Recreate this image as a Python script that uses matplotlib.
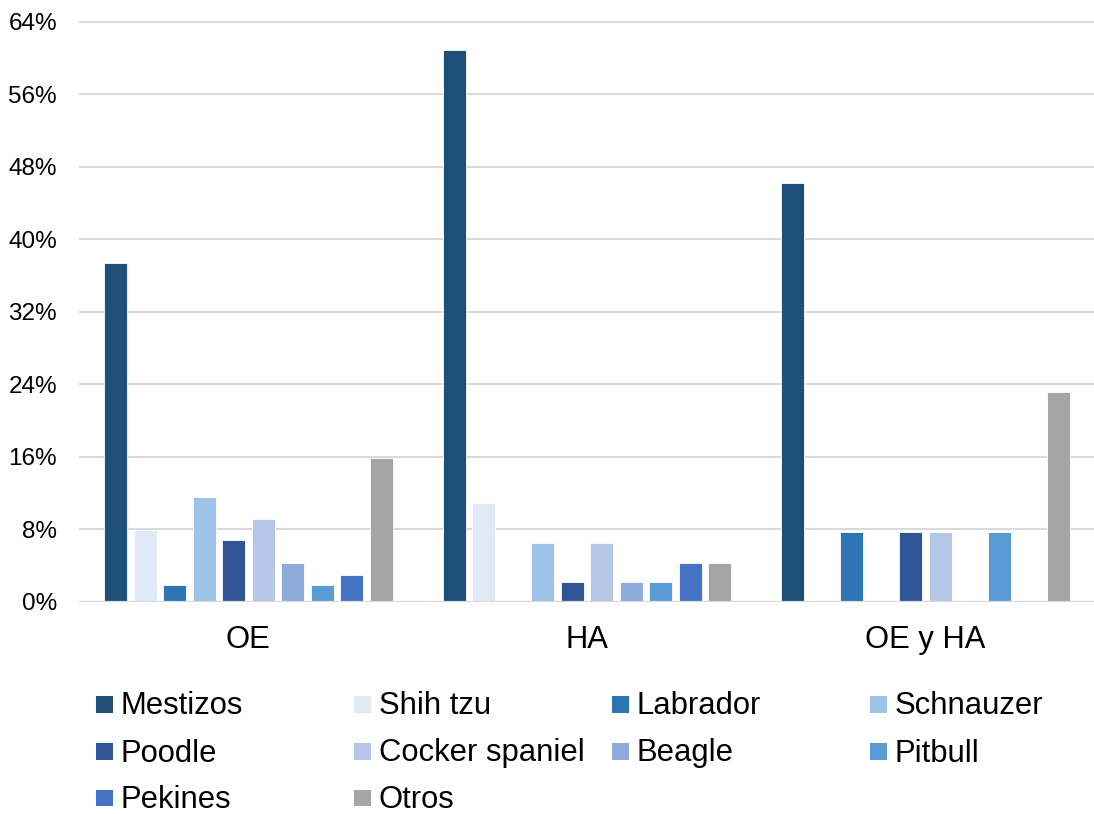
import matplotlib
matplotlib.use("Agg")
import matplotlib.pyplot as plt
from matplotlib.patches import Rectangle
from matplotlib.ticker import PercentFormatter, MultipleLocator
import numpy as np

plt.rcParams['font.family'] = ['Liberation Sans', 'DejaVu Sans']

# Groups and breed shares (fraction of dogs in each group)
groups = ["OE", "HA", "OE y HA"]
breeds = ["Mestizos", "Shih tzu", "Labrador", "Schnauzer", "Poodle",
          "Cocker spaniel", "Beagle", "Pitbull", "Pekines", "Otros"]
oe = [0.374, 0.079, 0.018, 0.116, 0.068, 0.091, 0.043, 0.018, 0.030, 0.159]
ha = [0.609, 0.109, 0.0, 0.065, 0.022, 0.065, 0.022, 0.022, 0.043, 0.043]
oe_ha = [0.462, 0.0, 0.077, 0.0, 0.077, 0.077, 0.0, 0.077, 0.0, 0.231]
colors = ["#1F4E79", "#DEEBF7", "#2E75B6", "#9DC3E6", "#2F5597",
          "#B4C7E7", "#8FAADC", "#5B9BD5", "#4472C4", "#A5A5A5"]

W, H = 1094, 814
fig = plt.figure(figsize=(W / 100, H / 100), dpi=100)

# axes placement in pixels
x0, x1 = 79, 1095
y_zero, y_top = 601.7, 22.0
ymax = 0.642
px_per_unit = (y_zero - y_top) / 0.64
ax_top = y_zero - ymax * px_per_unit
ax = fig.add_axes([x0 / W, (H - y_zero) / H, (x1 - x0) / W, (y_zero - ax_top) / H])

values = np.array([oe, ha, oe_ha]).T  # one row per breed
n = len(breeds)
slot = 0.0871
width = 0.0679
xc = np.arange(len(groups))
for j, (name, col) in enumerate(zip(breeds, colors)):
    ax.bar(xc + (j - (n - 1) / 2) * slot, values[j], width=width,
           color=col, edgecolor="white", linewidth=0.6, zorder=2)

ax.set_xlim(-0.5, len(groups) - 0.5)
ax.set_ylim(0, ymax)
ax.yaxis.set_major_locator(MultipleLocator(0.08))
ax.yaxis.set_major_formatter(PercentFormatter(1.0, decimals=0))
ax.grid(axis="y", color="#D9D9D9", linewidth=1.4, zorder=0)
ax.set_axisbelow(True)
ax.axhline(0, color="#D9D9D9", linewidth=1.6, zorder=3)
for s in ax.spines.values():
    s.set_visible(False)

ax.set_xticks(xc)
ax.set_xticklabels(groups)
ax.tick_params(axis="y", length=0, pad=15.8, labelsize=17.5, labelcolor="#000000")
ax.tick_params(axis="x", length=0, pad=16.8, labelsize=22.3, labelcolor="#000000")

# legend laid out in a 4-column grid
col_x = [96, 354, 612, 870]
row_base = [714.5, 761.5, 808]
sq = 16.7
for i, (name, col) in enumerate(zip(breeds, colors)):
    r, c = divmod(i, 4)
    base = row_base[r]
    sq_top = base - 18.5
    fig.patches.append(Rectangle((col_x[c] / W, (H - sq_top - sq) / H), sq / W, sq / H,
                                 transform=fig.transFigure, facecolor=col,
                                 edgecolor="none", figure=fig))
    fig.text((col_x[c] + 24.7) / W, (H - base) / H, name, fontsize=22.3,
             ha="left", va="baseline", color="#000000")

fig.savefig("out.png", dpi=100, facecolor="white")
